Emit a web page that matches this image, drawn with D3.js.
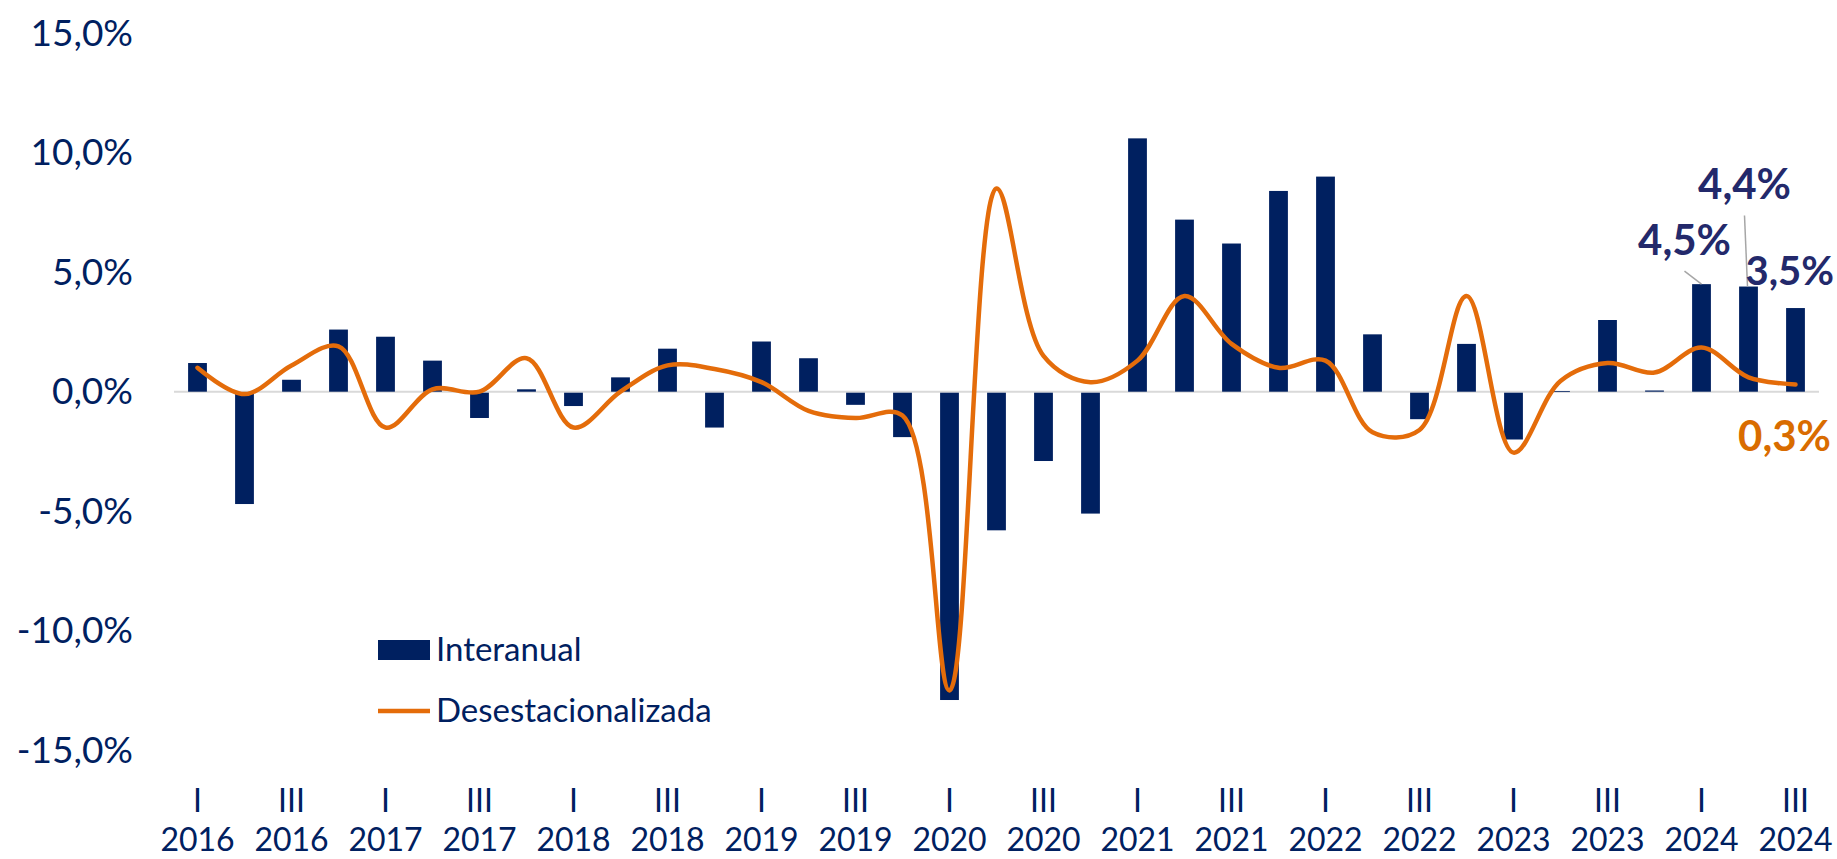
<!DOCTYPE html>
<html>
<head>
<meta charset="utf-8">
<script src="https://cdn.jsdelivr.net/npm/d3@7"></script>
<style>
  body { margin: 0; background: #fff; }
  svg { display: block; font-family: Lato, "Open Sans", sans-serif; }
</style>
</head>
<body>
<div id="chart-area"></div>
<script>
// quarters 2016 I .. 2024 III
var years = [2016, 2017, 2018, 2019, 2020, 2021, 2022, 2023, 2024];
var quarterNames = ['I', 'II', 'III', 'IV'];

var interanual = [1.2, -4.7, 0.5, 2.6, 2.3, 1.3, -1.1, 0.1, -0.6, 0.6, 1.8, -1.5,
  2.1, 1.4, -0.55, -1.9, -12.9, -5.8, -2.9, -5.1, 10.6, 7.2, 6.2, 8.4, 9.0,
  2.4, -1.15, 2.0, -2.0, 0.02, 3.0, 0.05, 4.5, 4.4, 3.5];

var desestacionalizada = [1.0, -0.1, 1.1, 1.9, -1.5, 0.1, 0.0, 1.4, -1.5, 0.0,
  1.1, 0.95, 0.4, -0.8, -1.1, -1.0, -12.5, 8.5, 1.5, 0.4, 1.3, 4.0, 2.0, 1.0,
  1.3, -1.7, -1.6, 4.0, -2.55, 0.45, 1.2, 0.8, 1.85, 0.6, 0.3];

var yTicks = [-15, -10, -5, 0, 5, 10, 15];

var data = interanual.map(function(v, i) {
  return {
    key: i,
    year: years[Math.floor(i / 4)],
    q: quarterNames[i % 4],
    bar: v,
    line: desestacionalizada[i]
  };
});

var navy = '#002060';
var orange = '#e46c0a';
var labelBlue = '#23296b';

var svg = d3.select('#chart-area').append('svg')
  .attr('width', 1837)
  .attr('height', 859);

var x = d3.scaleBand()
  .domain(data.map(function(d) { return d.key; }))
  .range([174, 1819])
  .paddingInner(0.6)
  .paddingOuter(0.3);

var y = d3.scaleLinear()
  .domain([-15, 15])
  .range([750.2, 33.2]);

var es = d3.formatLocale({ decimal: ',', thousands: '.', grouping: [3], currency: ['', '€'], minus: '-' });
var pct = function(v) { return es.format('.1f')(v) + '%'; };

// y axis (labels only)
var yAxis = svg.append('g')
  .attr('transform', 'translate(133,0)')
  .call(d3.axisLeft(y).tickValues(yTicks).tickSize(0).tickPadding(0).tickFormat(pct));
yAxis.select('.domain').remove();
yAxis.selectAll('text')
  .attr('fill', navy)
  .style('font-size', '37px')
  .style('font-family', 'Lato, sans-serif');

// zero line
svg.append('line')
  .attr('x1', 174).attr('x2', 1819)
  .attr('y1', y(0)).attr('y2', y(0))
  .attr('stroke', '#d9d9d9')
  .attr('stroke-width', 2);

// bars
svg.selectAll('rect.bar')
  .data(data)
  .enter()
  .append('rect')
    .attr('class', 'bar')
    .attr('x', function(d) { return x(d.key); })
    .attr('width', x.bandwidth())
    .attr('y', function(d) { return d.bar >= 0 ? y(d.bar) : y(0) + 1; })
    .attr('height', function(d) { return Math.max(0.8, Math.abs(y(d.bar) - y(0)) - (d.bar < 0 ? 1 : 0)); })
    .attr('fill', navy);

// line
var line = d3.line()
  .x(function(d) { return x(d.key) + x.bandwidth() / 2; })
  .y(function(d) { return y(d.line); })
  .curve(d3.curveCatmullRom.alpha(0.5));

svg.append('path')
  .datum(data)
  .attr('d', line)
  .attr('fill', 'none')
  .attr('stroke', orange)
  .attr('stroke-width', 4.5)
  .attr('stroke-linecap', 'round');

// x labels: every other quarter
var xl = svg.append('g').selectAll('g')
  .data(data.filter(function(d, i) { return i % 2 === 0; }))
  .enter()
  .append('g')
    .attr('transform', function(d) { return 'translate(' + (x(d.key) + x.bandwidth() / 2) + ',0)'; });
xl.append('text')
  .attr('y', 812)
  .attr('text-anchor', 'middle')
  .attr('fill', navy)
  .style('font-size', '32px')
  .text(function(d) { return d.q; });
xl.append('text')
  .attr('y', 851)
  .attr('text-anchor', 'middle')
  .attr('fill', navy)
  .style('font-size', '32px')
  .text(function(d) { return d.year; });

// legend
svg.append('rect')
  .attr('x', 378).attr('y', 640)
  .attr('width', 52).attr('height', 20)
  .attr('fill', navy);
svg.append('text')
  .attr('x', 436).attr('y', 661)
  .attr('fill', navy)
  .style('font-size', '33px')
  .text('Interanual');
svg.append('line')
  .attr('x1', 378).attr('x2', 430)
  .attr('y1', 711).attr('y2', 711)
  .attr('stroke', orange)
  .attr('stroke-width', 4.5);
svg.append('text')
  .attr('x', 436).attr('y', 722)
  .attr('fill', navy)
  .style('font-size', '33px')
  .text('Desestacionalizada');

// data labels for the last quarters
var n = data.length;
var cx = function(i) { return x(data[i].key) + x.bandwidth() / 2; };

var leaders = [
  { i: n - 3, x1: -17, y1: -13, x2: 0, y2: 0 },
  { i: n - 2, x1: -4, y1: -71, x2: -1, y2: 0 }
];
svg.selectAll('line.leader')
  .data(leaders)
  .enter()
  .append('line')
    .attr('class', 'leader')
    .attr('x1', function(d) { return cx(d.i) + d.x1; })
    .attr('y1', function(d) { return y(data[d.i].bar) + d.y1; })
    .attr('x2', function(d) { return cx(d.i) + d.x2; })
    .attr('y2', function(d) { return y(data[d.i].bar) + d.y2; })
    .attr('stroke', '#a6a6a6')
    .attr('stroke-width', 1.5);

var barLabels = [
  { i: n - 3, dx: -17, dy: -29, anchor: 'middle', size: 42 },
  { i: n - 2, dx: -4, dy: -88, anchor: 'middle', size: 42 },
  { i: n - 1, dx: -50, dy: -23, anchor: 'start', size: 40 }
];
svg.selectAll('text.blabel')
  .data(barLabels)
  .enter()
  .append('text')
    .attr('class', 'blabel')
    .attr('x', function(d) { return cx(d.i) + d.dx; })
    .attr('y', function(d) { return y(data[d.i].bar) + d.dy; })
    .attr('text-anchor', function(d) { return d.anchor; })
    .attr('fill', labelBlue)
    .style('font-size', function(d) { return d.size + 'px'; })
    .style('font-weight', 'bold')
    .text(function(d) { return pct(data[d.i].bar); });

svg.append('text')
  .attr('x', cx(n - 1) - 11)
  .attr('y', y(data[n - 1].line) + 66)
  .attr('text-anchor', 'middle')
  .attr('fill', '#d96c00')
  .style('font-size', '42px')
  .style('font-weight', 'bold')
  .text(pct(data[n - 1].line));
</script>
</body>
</html>
